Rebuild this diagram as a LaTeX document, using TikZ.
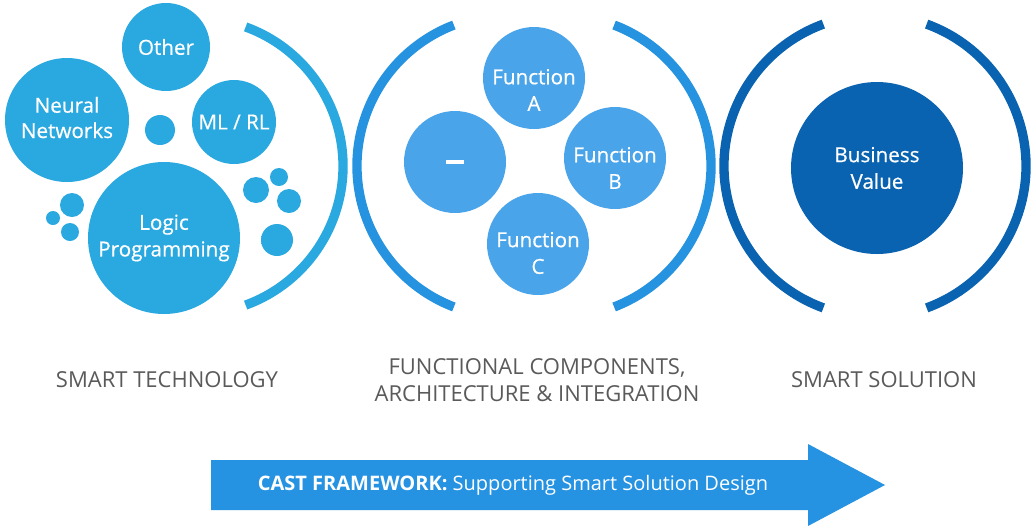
\documentclass[tikz,border=0pt]{standalone}
\usepackage{fontspec}
\setmainfont{Open Sans}
\newfontfamily\circfont[FakeBold=0.6]{Open Sans}

\definecolor{techblue}{HTML}{2AA8E0}
\definecolor{funcblue}{HTML}{4AA4E9}
\definecolor{funcarc}{HTML}{2593E0}
\definecolor{valueblue}{HTML}{0A63B0}
\definecolor{arrowblue}{HTML}{2592E2}
\definecolor{capgray}{HTML}{5A5A5A}

\pgfdeclareradialshading{blurdot}{\pgfpoint{0bp}{0bp}}{color(0bp)=(techblue); color(30bp)=(techblue); color(50bp)=(white)}

\tikzset{every picture/.style={line width=0.75pt}}
\tikzset{
  circtext/.style={text=white, align=center, font=\circfont\fontsize{15.5}{20}\selectfont},
  techcirc/.style={circle, fill=techblue, inner sep=0pt, circtext},
  funccirc/.style={circle, fill=funcblue, inner sep=0pt, minimum size=76.5pt},
  valuecirc/.style={circle, fill=valueblue, inner sep=0pt, minimum size=129pt, circtext},
  bracket/.style={line width=7pt},
  caption/.style={text=capgray, align=center, font=\fontsize{16.5}{20}\selectfont}
}

\begin{document}
\begin{tikzpicture}[x=0.75pt,y=0.75pt,yscale=-1,xscale=1]
\useasboundingbox (0,0) rectangle (1033,526);

%Shape: Blurred dots
\shade[shading=blurdot] (160,130) circle (15);
\shade[shading=blurdot] (72,205) circle (12);
\shade[shading=blurdot] (53,218) circle (7);
\shade[shading=blurdot] (70,232) circle (9);
\shade[shading=blurdot] (256,190) circle (13);
\shade[shading=blurdot] (279,177) circle (9);
\shade[shading=blurdot] (289,201) circle (12);
\shade[shading=blurdot] (277,240) circle (16);

% Technology circles
\node (other) at (166,47) [techcirc, minimum size=66pt] {Other};
\node (neural) at (67,120) [techcirc, minimum size=93pt] {\raisebox{3pt}{\begin{tabular}{@{}c@{}}Neural\\[-1pt]Networks\end{tabular}}};
\node (mlrl) at (234,122) [techcirc, minimum size=63pt] {ML / RL};
\node (logic) at (164,238) [techcirc, minimum size=114pt] {Logic\\Programming};

%Shape: Arc
\draw [bracket, techblue] (195,166) ++(-70:148) arc [start angle=-70, end angle=70, radius=148];

%Shape: Arc
\draw [bracket, funcarc] (508,166) ++(111:151) arc [start angle=111, end angle=249, radius=151];
%Shape: Arc
\draw [bracket, funcarc] (560,166) ++(-69:151) arc [start angle=-69, end angle=69, radius=151];

% Function circles
\node (funcA) at (534,78) [funccirc] {};
\node (blank) at (455,162) [funccirc] {};
\node (funcB) at (615,158) [funccirc] {};
\node (funcC) at (538,244) [funccirc] {};
% Text Node
\node (funcAtext) at (534,90) [circtext] {Function\\A};
\node (blanktext) at (455,162) [circtext] {\rule{13.5pt}{3pt}};
\node (funcBtext) at (615,168) [circtext] {Function\\B};
\node (funcCtext) at (538,253) [circtext] {Function\\C};

%Shape: Arc
\draw [bracket, valueblue] (875,166) ++(110:151) arc [start angle=110, end angle=250, radius=151];
%Shape: Arc
\draw [bracket, valueblue] (875,166) ++(-70:151) arc [start angle=-70, end angle=70, radius=151];

\node (value) at (877,168) [valuecirc] {Business\\Value};

% Text Node
\node (captech) at (167,380) [caption] {SMART TECHNOLOGY};
% Text Node
\node (capfunc) at (537,380) [caption] {FUNCTIONAL COMPONENTS,\\ARCHITECTURE \& INTEGRATION};
% Text Node
\node (capsol) at (884,380) [caption] {SMART SOLUTION};

%Shape: Right Arrow
\fill [arrowblue] (211,460) -- (808,460) -- (808,444) -- (885,485) -- (808,526) -- (808,510) -- (211,510) -- cycle;
% Text Node
\node (cast) at (513,485) [text=white, font=\fontsize{15}{18}\selectfont] {\textbf{CAST FRAMEWORK:} Supporting Smart Solution Design};

\end{tikzpicture}
\end{document}
